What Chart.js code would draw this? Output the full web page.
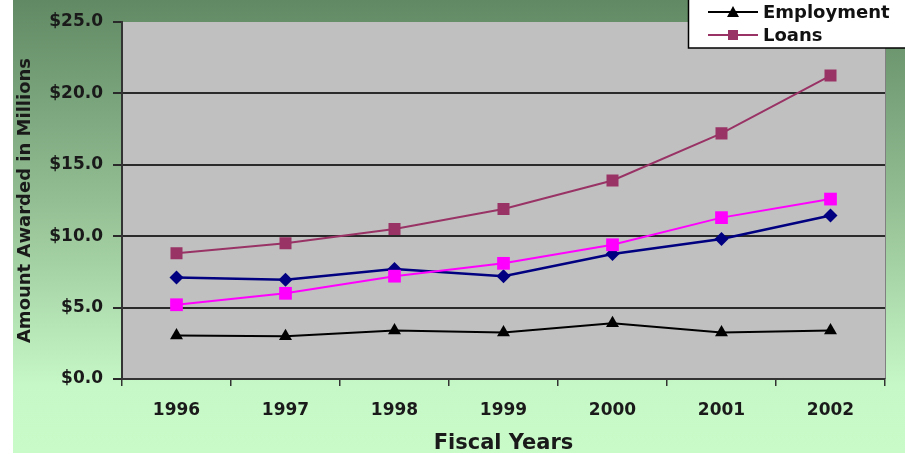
<!DOCTYPE html>
<html>
<head>
<meta charset="utf-8">
<script src="https://cdn.jsdelivr.net/npm/chart.js@4.4.1/dist/chart.umd.min.js"></script>
<style>
  html, body { margin: 0; padding: 0; background: #fff; }
  #wrap { width: 905px; height: 454px; }
</style>
</head>
<body>
<div id="wrap"><canvas id="awardsChart" width="905" height="454"></canvas></div>
<script>
// tahun fiskal
const years = ["1996", "1997", "1998", "1999", "2000", "2001", "2002"];

// nilai dalam juta dolar
const loans = [8.8, 9.5, 10.5, 11.9, 13.9, 17.2, 21.25];
const seriesMagenta = [5.2, 6.0, 7.2, 8.1, 9.4, 11.3, 12.6];
const seriesBlue = [7.1, 6.95, 7.7, 7.2, 8.75, 9.8, 11.45];
const employment = [3.05, 3.0, 3.4, 3.25, 3.9, 3.25, 3.4];

const yTicks = [0, 5, 10, 15, 20, 25];
const legendShown = ["Employment", "Loans"];

const FONT = "'DejaVu Sans', Verdana, sans-serif";

// latar belakang hijau + area plot abu-abu
const backgroundPlugin = {
    id: "background",
    beforeDraw(chart) {
        const ctx = chart.ctx;
        const area = chart.chartArea;
        ctx.save();
        const grad = ctx.createLinearGradient(0, 0, 0, 453);
        grad.addColorStop(0, "#618a64");
        grad.addColorStop(0.45, "#94bf94");
        grad.addColorStop(0.85, "#c6f7c6");
        grad.addColorStop(1, "#c9fbc9");
        ctx.fillStyle = grad;
        ctx.fillRect(13, 0, chart.width - 13, 453);
        ctx.fillStyle = "#c0c0c0";
        ctx.fillRect(area.left, area.top, area.right - area.left, area.bottom - area.top);
        ctx.strokeStyle = "#808080";
        ctx.lineWidth = 1;
        ctx.beginPath();
        ctx.moveTo(area.right + 0.5, area.top);
        ctx.lineTo(area.right + 0.5, area.bottom);
        ctx.stroke();
        ctx.restore();
    },
};

// legenda yang terpotong di pojok kanan atas
const legendBoxPlugin = {
    id: "legendBox",
    afterDraw(chart) {
        const ctx = chart.ctx;
        ctx.save();
        ctx.fillStyle = "#ffffff";
        ctx.fillRect(688, -5, 230, 53);
        ctx.strokeStyle = "#000";
        ctx.lineWidth = 1.5;
        ctx.strokeRect(688.5, -5, 230, 53);

        const rows = [12, 35];
        legendShown.forEach((name, i) => {
            const ds = chart.data.datasets.find((d) => d.label === name);
            const y = rows[i];
            ctx.strokeStyle = ds.borderColor;
            ctx.lineWidth = 2;
            ctx.beginPath();
            ctx.moveTo(708, y);
            ctx.lineTo(758, y);
            ctx.stroke();
            ctx.fillStyle = ds.pointBackgroundColor;
            ctx.beginPath();
            if (ds.pointStyle === "triangle") {
                ctx.moveTo(733, y - 6);
                ctx.lineTo(739, y + 5);
                ctx.lineTo(727, y + 5);
                ctx.closePath();
            } else {
                ctx.rect(728, y - 5, 10, 10);
            }
            ctx.fill();

            ctx.fillStyle = "#111";
            ctx.font = "bold 18px " + FONT;
            ctx.textBaseline = "middle";
            ctx.textAlign = "left";
            ctx.fillText(name, 763, y + 1);
        });
        ctx.restore();
    },
};

const ctx = document.getElementById("awardsChart").getContext("2d");
const awardsChart = new Chart(ctx, {
    type: "line",
    data: {
        labels: years,
        datasets: [
            {
                label: "Loans",
                data: loans,
                borderColor: "#993366",
                backgroundColor: "#993366",
                pointBackgroundColor: "#993366",
                pointBorderColor: "#993366",
                pointStyle: "rect",
                pointRadius: 8.5,
                pointBorderWidth: 0,
                borderWidth: 2,
            },
            {
                label: "Series Magenta",
                data: seriesMagenta,
                borderColor: "#ff00ff",
                backgroundColor: "#ff00ff",
                pointBackgroundColor: "#ff00ff",
                pointBorderColor: "#ff00ff",
                pointStyle: "rect",
                pointRadius: 9,
                pointBorderWidth: 0,
                borderWidth: 2,
            },
            {
                label: "Series Blue",
                data: seriesBlue,
                borderColor: "#000080",
                backgroundColor: "#000080",
                pointBackgroundColor: "#000080",
                pointBorderColor: "#000080",
                pointStyle: "rectRot",
                pointRadius: 7,
                pointBorderWidth: 0,
                borderWidth: 2.5,
            },
            {
                label: "Employment",
                data: employment,
                borderColor: "#000000",
                backgroundColor: "#000000",
                pointBackgroundColor: "#000000",
                pointBorderColor: "#000000",
                pointStyle: "triangle",
                pointRadius: 7.5,
                pointBorderWidth: 0,
                borderWidth: 2,
            },
        ],
    },
    options: {
        responsive: false,
        animation: false,
        layout: { padding: { left: 13, top: 22, right: 20, bottom: 0 } },
        plugins: {
            legend: { display: false },
            tooltip: { enabled: false },
        },
        scales: {
            x: {
                offset: true,
                afterFit: (scale) => { scale.height = 75; },
                grid: {
                    offset: true,
                    drawOnChartArea: false,
                    tickLength: 7,
                    color: "#333",
                    lineWidth: 1.5,
                },
                border: { color: "#333", width: 2 },
                ticks: {
                    color: "#1a1a1a",
                    font: { family: FONT, size: 17, weight: "bold" },
                    padding: 14,
                    maxRotation: 0,
                },
                title: {
                    display: true,
                    text: "Fiscal Years",
                    color: "#1a1a1a",
                    font: { family: FONT, size: 21, weight: "bold", lineHeight: 1 },
                    padding: { top: 0, bottom: 0 },
                },
            },
            y: {
                min: 0,
                max: 25,
                afterFit: (scale) => { scale.width = 109; },
                afterBuildTicks: (scale) => {
                    scale.ticks = yTicks.map((v) => ({ value: v }));
                },
                grid: {
                    color: (c) => (c.tick && c.tick.value === 25 ? "rgba(0,0,0,0)" : "#2a2a2a"),
                    tickColor: "#2a2a2a",
                    lineWidth: 2,
                    tickLength: 9,
                },
                border: { color: "#333", width: 2 },
                ticks: {
                    color: "#1a1a1a",
                    font: { family: FONT, size: 17, weight: "bold" },
                    padding: 10,
                    callback: (value) => "$" + Number(value).toFixed(1),
                },
                title: {
                    display: true,
                    text: "Amount Awarded in Millions",
                    color: "#1a1a1a",
                    font: { family: FONT, size: 18, weight: "bold" },
                    padding: { top: 2, bottom: 0 },
                },
            },
        },
    },
    plugins: [backgroundPlugin, legendBoxPlugin],
});
</script>
</body>
</html>
